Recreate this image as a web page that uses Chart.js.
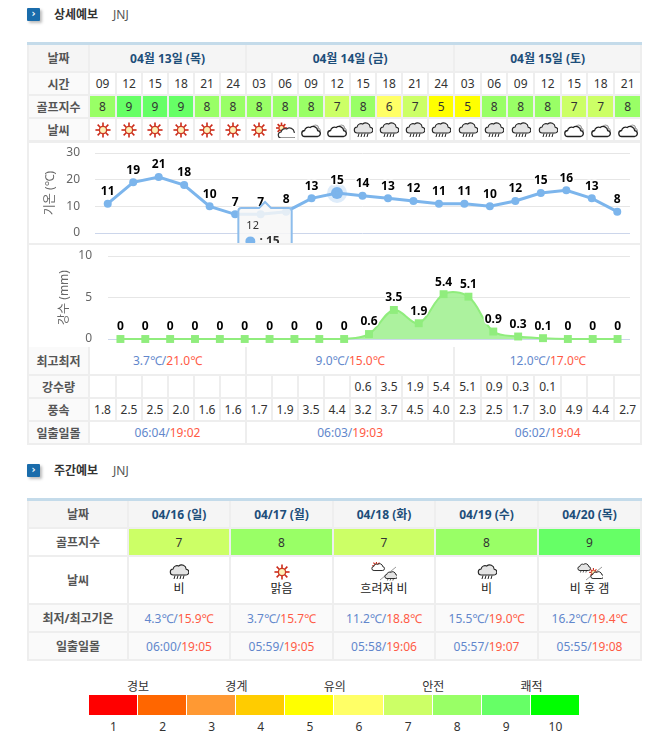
<!DOCTYPE html>
<html lang="ko">
<head>
<meta charset="utf-8">
<title>골프 날씨</title>
<script src="https://cdn.jsdelivr.net/npm/chart.js@4"></script>
<style>
  html, body { margin: 0; padding: 0; background: #fff; overflow: hidden; }
  body { width: 670px; height: 741px; position: relative; font: 12px "Noto Sans", "Noto Sans CJK KR", sans-serif; color: #333; }
  .head { position: absolute; left: 27px; height: 16px; line-height: 16px; }
  .head i { position: absolute; left: 0; top: 0; width: 13px; height: 13px; border-radius: 1px; background: #1a6cab; box-shadow: 2px 2px 3px #bbb; color: #fff; font: bold 10px/12px "DejaVu Sans"; text-align: center; }
  .head b { position: absolute; left: 27px; top: -1px; white-space: nowrap; color: #333; }
  .head span { position: absolute; left: 86px; top: -1px; color: #555; }
  table { position: absolute; left: 27px; width: 615px; table-layout: fixed; border-collapse: separate; border-spacing: 0; }
  .blue { border-top: 3px solid #c4dbea; }
  td { box-sizing: border-box; padding: 0; border-right: 2px solid #eee; border-bottom: 2px solid #eee; text-align: center; vertical-align: middle; white-space: nowrap; overflow: visible; }
  td:first-child { border-left: 2px solid #eee; background: #fafafa; color: #555; font-weight: bold; }
  .day td { background: #f5f5f5; color: #1d4e7a; font-weight: bold; }
  .day td:first-child { background: #f5f5f5; color: #555; }
  td svg { vertical-align: middle; }
  .lo { color: #6287cc; }
  .hi { color: #ff5a45; }
  #week .plain td:first-child { background: #fff; }
  #week .soft td { background: #fafafa; }
  #week .soft td:first-child { background: #fafafa; }
  #chartBg { position: absolute; left: 27px; top: 142px; width: 615px; height: 205px; background: #eee; }
  .chartBox { position: absolute; left: 29px; width: 611px; overflow: hidden; background: #fff; }
  canvas { position: absolute; left: 0; top: 0; }
  #legend { position: absolute; left: 89px; top: 695px; width: 491px; height: 20px; display: flex; }
  #legend div { flex: 1; border-right: 1px solid #fff; }
  .lg { position: absolute; transform: translateX(-50%); color: #333; white-space: nowrap; }
</style>
</head>
<body>
<div class="head" style="top:8px"><i>›</i><b>상세예보</b><span>JNJ</span></div>
<div class="head" style="top:464px"><i>›</i><b>주간예보</b><span>JNJ</span></div>
<div id="chartBg"></div>
<table id="top" class="blue" style="top:42px"></table>
<div class="chartBox" style="top:143px;height:100px"><canvas id="tempChart" width="611" height="170"></canvas></div>
<div class="chartBox" style="top:245px;height:102px"><canvas id="rainChart" width="611" height="102"></canvas></div>
<table id="bottom" style="top:347px"></table>
<table id="week" class="blue" style="top:498px"></table>
<div id="legend"></div>
<div id="legendText"></div>

<script>
// 1. Datos
const hours = ['09','12','15','18','21','24','03','06','09','12','15','18','21','24','03','06','09','12','15','18','21'];
const temps = [11,19,21,18,10,7,7,8,13,15,14,13,12,11,11,10,12,15,16,13,8];
const rains = [0,0,0,0,0,0,0,0,0,0,0.6,3.5,1.9,5.4,5.1,0.9,0.3,0.1,0,0,0];
const golfIndex = [8,9,9,9,8,8,8,8,8,7,8,6,7,5,5,8,8,8,7,7,8];
const skies = ['sun','sun','sun','sun','sun','sun','sun','sunCloud','cloud','cloud','rain','rain','rain','rain','rain','rain','rain','rain','cloud','cloud','cloud'];
const rainAmount = ['','','','','','','','','','','0.6','3.5','1.9','5.4','5.1','0.9','0.3','0.1','','',''];
const winds = ['1.8','2.5','2.5','2.0','1.6','1.6','1.7','1.9','3.5','4.4','3.2','3.7','4.5','4.0','2.3','2.5','1.7','3.0','4.9','4.4','2.7'];
const days = ['04월 13일 (목)','04월 14일 (금)','04월 15일 (토)'];
const daySpans = [6,8,7];
const dayLow = ['3.7℃/','9.0℃/','12.0℃/'];
const dayHigh = ['21.0℃','15.0℃','17.0℃'];
const dayRise = ['06:04/','06:03/','06:02/'];
const daySet = ['19:02','19:03','19:04'];

const weekDays = ['04/16 (일)','04/17 (월)','04/18 (화)','04/19 (수)','04/20 (목)'];
const weekGolf = [7,8,7,8,9];
const weekSky = ['rain','sun','sunToRain','rain','rainToSun'];
const weekSkyText = ['비','맑음','흐려져 비','비','비 후 갬'];
const weekLow = ['4.3℃/','3.7℃/','11.2℃/','15.5℃/','16.2℃/'];
const weekHigh = ['15.9℃','15.7℃','18.8℃','19.0℃','19.4℃'];
const weekRise = ['06:00/','05:59/','05:58/','05:57/','05:55/'];
const weekSet = ['19:05','19:05','19:06','19:07','19:08'];

const legendLevels = [1,2,3,4,5,6,7,8,9,10];
const legendNames = ['경보','경계','유의','안전','쾌적'];
const golfColors = {1:'#ff0000',2:'#ff6600',3:'#ff9933',4:'#ffcc00',5:'#ffff00',6:'#ffff66',7:'#ccff66',8:'#99ff66',9:'#66ff66',10:'#00ff00'};

// 2. Iconos del tiempo (SVG)
const cloudPath = 'M4.500 14a3 3 0 0 1-.4-6 4 4 0 0 1 5.600-3 4.600 4.600 0 0 1 7.500 3.200 2.900 2.900 0 0 1-.6 5.800z';
function sunShape(cx, cy, r) {
  let rays = '';
  for (let a = 0; a < 8; a++) {
    const s = Math.sin(a * Math.PI / 4), c = Math.cos(a * Math.PI / 4);
    rays += `<line x1="${cx + c * r}" y1="${cy + s * r}" x2="${cx + c * r * 2.1}" y2="${cy + s * r * 2.1}" stroke="#cc2a1a" stroke-width="1.6"/>`;
  }
  return rays + `<circle cx="${cx}" cy="${cy}" r="${r}" fill="#fdf0b8" stroke="#cc3a22" stroke-width="1.3"/>`;
}
const icons = {
  sun: () => sunShape(10, 8, 3.6),
  sunCloud: () => sunShape(6.5, 6, 2.6) + `<g transform="translate(2,2)"><path d="${cloudPath}" fill="#fff" stroke="#333" stroke-width="1.2"/></g>`,
  cloud: () => `<path d="M16 3.500l3.800 5-3.800 3z" fill="#ddd" stroke="#888" stroke-width=".8"/><circle cx="14.500" cy="6" r="3" fill="#eee" stroke="#999"/><path d="${cloudPath}" fill="#fff" stroke="#222" stroke-width="1.300" transform="translate(-.5,.5)"/>`,
  rain: () => `<path transform="translate(0,-3)" d="${cloudPath}" fill="#e4e4e4" stroke="#222" stroke-width="1.1"/><path d="M6 11.500l-1 3.500M9 11.500l-1 3.500M12 11.500l-1 3.500M15 11.500l-1 3.500" stroke="#222" fill="none"/>`,
  sunToRain: () => `<g transform="translate(0,-1) scale(.68)">${sunShape(8, 7, 3)}<path d="${cloudPath}" fill="#fff" stroke="#222" stroke-width="1.4"/></g><line x1="9" y1="18" x2="25" y2="5" stroke="#999"/><g transform="translate(13,7) scale(.68)"><path d="${cloudPath}" fill="#e4e4e4" stroke="#222" stroke-width="1.4"/><path d="M6 14l-1 3M10 14l-1 3M14 14l-1 3" stroke="#222"/></g>`,
  rainToSun: () => `<g transform="translate(0,-1) scale(.68)"><path d="${cloudPath}" fill="#e4e4e4" stroke="#222" stroke-width="1.4"/><path d="M6 14l-1 3M10 14l-1 3M14 14l-1 3" stroke="#222"/></g><line x1="9" y1="18" x2="25" y2="5" stroke="#999"/><g transform="translate(13,7) scale(.68)">${sunShape(5, 5, 3)}<path d="${cloudPath}" fill="#fff" stroke="#222" stroke-width="1.4"/></g>`
};
function icon(name) {
  const wide = name === 'sunToRain' || name === 'rainToSun';
  return `<svg width="${wide ? 26 : 20}" height="${wide ? 19 : 16}" viewBox="0 0 ${wide ? 26 : 20} ${wide ? 19 : 16}">${icons[name]()}</svg>`;
}

// 3. Tablas
const hourCols = [27,26,26,26,26,26,26,26,26,26,26,26,26,26,27,26,27,27,26,27,27];
function colgroup(widths) { return '<colgroup>' + widths.map(w => `<col style="width:${w}px">`).join('') + '</colgroup>'; }
function row(h, cls, label, cells) { return `<tr class="${cls}" style="height:${h}px"><td>${label}</td>${cells}</tr>`; }
function twoTone(lo, hi, i) { return `<span class="lo">${lo[i]}</span><span class="hi">${hi[i]}</span>`; }

document.getElementById('top').innerHTML = colgroup([63].concat(hourCols)) +
  row(28, 'day', '날짜', days.map((d, i) => `<td colspan="${daySpans[i]}">${d}</td>`).join('')) +
  row(23, '', '시간', hours.map(h => `<td>${h}</td>`).join('')) +
  row(23, '', '골프지수', golfIndex.map(g => `<td style="background:${golfColors[g]}">${g}</td>`).join('')) +
  row(23, '', '날씨', skies.map(s => `<td>${icon(s)}</td>`).join(''));

document.getElementById('bottom').innerHTML = colgroup([63].concat(hourCols)) +
  row(29, '', '최고최저', days.map((d, i) => `<td colspan="${daySpans[i]}">${twoTone(dayLow, dayHigh, i)}</td>`).join('')) +
  row(23, '', '강수량', rainAmount.map(r => `<td>${r}</td>`).join('')) +
  row(23, '', '풍속', winds.map(w => `<td>${w}</td>`).join('')) +
  row(23, '', '일출일몰', days.map((d, i) => `<td colspan="${daySpans[i]}">${twoTone(dayRise, daySet, i)}</td>`).join(''));

document.getElementById('week').innerHTML = colgroup([102,102,103,102,103,103]) +
  row(28, 'day', '날짜', weekDays.map(d => `<td>${d}</td>`).join('')) +
  row(28, 'plain', '골프지수', weekGolf.map(g => `<td style="background:${golfColors[g]}">${g}</td>`).join('')) +
  row(48, 'plain', '날씨', weekSky.map((s, i) => `<td><div style="height:19px;line-height:19px;margin-top:-1px">${icon(s)}</div><div style="line-height:18px;color:#222">${weekSkyText[i]}</div></td>`).join('')) +
  row(28, 'soft', '최저/최고기온', weekLow.map((l, i) => `<td>${twoTone(weekLow, weekHigh, i)}</td>`).join('')) +
  row(28, 'soft', '일출일몰', weekRise.map((l, i) => `<td>${twoTone(weekRise, weekSet, i)}</td>`).join(''));

// Leyenda de colores
document.getElementById('legend').innerHTML = legendLevels.map(n => `<div style="background:${golfColors[n]}"></div>`).join('');
let legendHtml = '';
legendLevels.forEach((n, i) => {
  legendHtml += `<div class="lg" style="left:${113.500 + i * 49.100}px;top:718px">${n}</div>`;
});
legendNames.forEach((t, i) => {
  legendHtml += `<div class="lg" style="left:${138 + i * 98.400}px;top:677px">${t}</div>`;
});
document.getElementById('legendText').innerHTML = legendHtml;

// 4. Gráficos (Chart.js)
Chart.defaults.font.family = '"Noto Sans", "Noto Sans CJK KR", sans-serif';
Chart.defaults.font.size = 12;
Chart.defaults.color = '#666';
Chart.defaults.animation = false;

// Etiquetas de valor encima de cada punto
const valueLabels = {
  id: 'valueLabels',
  afterDatasetsDraw(chart) {
    const ctx = chart.ctx;
    const meta = chart.getDatasetMeta(0);
    ctx.save();
    ctx.font = 'bold 12px "Noto Sans", "Noto Sans CJK KR", sans-serif';
    ctx.textAlign = 'center';
    ctx.textBaseline = 'middle';
    ctx.lineJoin = 'round';
    meta.data.forEach((pt, i) => {
      const text = String(chart.data.datasets[0].data[i]);
      ctx.lineWidth = 3;
      ctx.strokeStyle = '#fff';
      ctx.strokeText(text, pt.x, pt.y - 12);
      ctx.fillStyle = '#000';
      ctx.fillText(text, pt.x, pt.y - 12);
    });
    ctx.restore();
  }
};

// Tooltip colocado a la izquierda del punto activo, como en la captura
Chart.Tooltip.positioners.leftOfPoint = function (items) {
  if (!items.length) return false;
  return { x: items[0].element.x - 72, y: items[0].element.y + 9 };
};

function gridColor(c) { return c.tick.value === 0 ? '#ccd6eb' : '#e6e6e6'; }

function yScale(max, step, title, axisWidth, tickPad, titlePad) {
  return {
    min: 0, max: max,
    afterFit(scale) {
      scale.width = axisWidth;
      // El padding de los ticks no debe encoger el área del gráfico
      scale.paddingTop = 0;
      scale.paddingBottom = 0;
    },
    ticks: { stepSize: step, padding: tickPad, color: '#666', font: { size: 12 } },
    grid: { color: gridColor, drawTicks: false, tickLength: 0 },
    border: { display: false },
    title: { display: true, text: title, color: '#666', font: { size: 12 }, padding: { top: titlePad, bottom: 0 } }
  };
}

// El lienzo es más alto que su caja: la caja recorta el tooltip por abajo
const tempChart = new Chart(document.getElementById('tempChart'), {
  type: 'line',
  data: {
    labels: hours,
    datasets: [{
      data: temps,
      borderColor: '#7cb5ec',
      backgroundColor: '#7cb5ec',
      borderWidth: 3,
      pointRadius: 4,
      pointBackgroundColor: '#7cb5ec',
      pointBorderWidth: 0,
      pointHoverRadius: 6,
      pointHoverBackgroundColor: '#7cb5ec',
      pointHoverBorderColor: 'rgba(124,181,236,0.25)',
      pointHoverBorderWidth: 8,
      tension: 0,
      clip: false
    }]
  },
  options: {
    responsive: false,
    events: [],
    transitions: { active: { animation: { duration: 0 } } },
    layout: { padding: { top: 10, right: 10, bottom: 80, left: 0 } },
    scales: {
      x: { offset: true, display: false },
      y: yScale(30, 10, '기온 (℃)', 66, 15, 14)
    },
    plugins: {
      legend: { display: false },
      tooltip: {
        position: 'leftOfPoint',
        xAlign: 'center',
        yAlign: 'top',
        animation: false,
        backgroundColor: 'rgba(247,247,247,0.85)',
        borderColor: '#8dbdec',
        borderWidth: 2,
        cornerRadius: 3,
        caretSize: 6,
        caretPadding: 0,
        padding: { top: 11, left: 8, right: 12, bottom: 8 },
        titleColor: '#333',
        titleFont: { size: 11, weight: 'normal' },
        titleMarginBottom: 2,
        bodyColor: '#333',
        bodyFont: { size: 12, weight: 'bold' },
        usePointStyle: true,
        boxWidth: 8,
        boxHeight: 8,
        callbacks: {
          label: c => ' : ' + c.parsed.y,
          labelColor: () => ({ borderColor: '#7cb5ec', backgroundColor: '#7cb5ec' }),
          labelPointStyle: () => ({ pointStyle: 'circle', rotation: 0 })
        }
      }
    }
  },
  plugins: [valueLabels]
});

const rainChart = new Chart(document.getElementById('rainChart'), {
  type: 'line',
  data: {
    labels: hours,
    datasets: [{
      data: rains,
      borderColor: '#90ed7d',
      backgroundColor: 'rgba(144,237,125,0.75)',
      fill: 'origin',
      borderWidth: 2,
      pointStyle: 'rect',
      pointRadius: 5.6,
      pointBackgroundColor: '#90ed7d',
      pointBorderWidth: 0,
      tension: 0.35,
      clip: false
    }]
  },
  options: {
    responsive: false,
    events: [],
    layout: { padding: { top: 11, right: 10, bottom: 8, left: 0 } },
    scales: {
      x: { offset: true, display: false },
      y: yScale(10, 5, '강수 (mm)', 79, 16, 28)
    },
    plugins: { legend: { display: false }, tooltip: { enabled: false } }
  },
  plugins: [valueLabels]
});

// Punto activo en 14일 12시
const activePoint = [{ datasetIndex: 0, index: 9 }];
tempChart.setActiveElements(activePoint);
tempChart.tooltip.setActiveElements(activePoint, { x: 0, y: 0 });
tempChart.render();
</script>
</body>
</html>
